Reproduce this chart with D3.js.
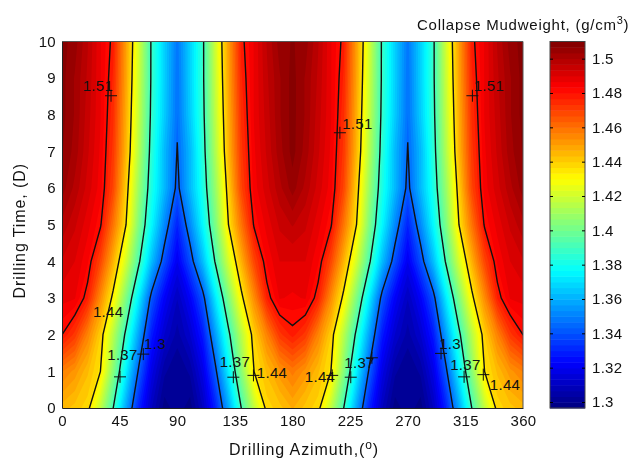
<!DOCTYPE html>
<html lang="en">
<head>
<meta charset="UTF-8">
<title>Collapse Mudweight</title>
<script src="https://cdn.jsdelivr.net/npm/d3@7"></script>
<style>
    html, body { margin: 0; padding: 0; background: #fff; }
    svg { display: block; filter: blur(0.35px); }
    text { font-family: "Liberation Sans", Arial, sans-serif; fill: #111; }
</style>
</head>
<body>
<svg width="634" height="460"></svg>
<script>
    // values, one row per day, one column per 10 degrees
    var azimuths = d3.range(0, 361, 10);
    var times = [0, 1, 2, 3, 4, 5, 6, 7, 8, 9, 10];
    var mudweight = [
        [1.445,1.442,1.438,1.417,1.390,1.358,1.330,1.310,1.298,1.302,1.298,1.310,1.330,1.358,1.390,1.417,1.438,1.442,1.447,1.442,1.438,1.417,1.390,1.358,1.330,1.310,1.298,1.302,1.298,1.310,1.330,1.358,1.390,1.417,1.438,1.442,1.445],
        [1.457,1.452,1.444,1.435,1.405,1.374,1.343,1.318,1.304,1.300,1.304,1.318,1.343,1.374,1.405,1.435,1.444,1.452,1.458,1.452,1.444,1.435,1.405,1.374,1.343,1.318,1.304,1.300,1.304,1.318,1.343,1.374,1.405,1.435,1.444,1.452,1.457],
        [1.480,1.472,1.456,1.440,1.415,1.387,1.357,1.328,1.313,1.305,1.313,1.328,1.357,1.387,1.415,1.440,1.456,1.472,1.478,1.472,1.456,1.440,1.415,1.387,1.357,1.328,1.313,1.305,1.313,1.328,1.357,1.387,1.415,1.440,1.456,1.472,1.480],
        [1.488,1.487,1.477,1.454,1.432,1.403,1.373,1.341,1.322,1.310,1.322,1.341,1.373,1.403,1.432,1.454,1.477,1.487,1.486,1.487,1.477,1.454,1.432,1.403,1.373,1.341,1.322,1.310,1.322,1.341,1.373,1.403,1.432,1.454,1.477,1.487,1.488],
        [1.493,1.490,1.484,1.469,1.446,1.421,1.392,1.363,1.339,1.320,1.339,1.363,1.392,1.421,1.446,1.469,1.484,1.490,1.490,1.490,1.484,1.469,1.446,1.421,1.392,1.363,1.339,1.320,1.339,1.363,1.392,1.421,1.446,1.469,1.484,1.490,1.493],
        [1.499,1.494,1.488,1.481,1.459,1.435,1.403,1.376,1.352,1.330,1.352,1.376,1.403,1.435,1.459,1.481,1.488,1.494,1.497,1.494,1.488,1.481,1.459,1.435,1.403,1.376,1.352,1.330,1.352,1.376,1.403,1.435,1.459,1.481,1.488,1.494,1.499],
        [1.505,1.499,1.492,1.485,1.469,1.440,1.409,1.382,1.362,1.342,1.362,1.382,1.409,1.440,1.469,1.485,1.492,1.499,1.505,1.499,1.492,1.485,1.469,1.440,1.409,1.382,1.362,1.342,1.362,1.382,1.409,1.440,1.469,1.485,1.492,1.499,1.505],
        [1.507,1.502,1.494,1.486,1.472,1.445,1.414,1.385,1.362,1.3445,1.362,1.385,1.414,1.445,1.472,1.486,1.494,1.502,1.508,1.502,1.494,1.486,1.472,1.445,1.414,1.385,1.362,1.3445,1.362,1.385,1.414,1.445,1.472,1.486,1.494,1.502,1.507],
        [1.508,1.503,1.495,1.487,1.474,1.447,1.417,1.387,1.366,1.3465,1.366,1.387,1.417,1.447,1.474,1.487,1.495,1.503,1.508,1.503,1.495,1.487,1.474,1.447,1.417,1.387,1.366,1.3465,1.366,1.387,1.417,1.447,1.474,1.487,1.495,1.503,1.508],
        [1.508,1.503,1.496,1.487,1.476,1.449,1.419,1.388,1.367,1.347,1.367,1.388,1.419,1.449,1.476,1.487,1.496,1.503,1.508,1.503,1.496,1.487,1.476,1.449,1.419,1.388,1.367,1.347,1.367,1.388,1.419,1.449,1.476,1.487,1.496,1.503,1.508],
        [1.508,1.505,1.497,1.487,1.478,1.450,1.421,1.388,1.367,1.348,1.367,1.388,1.421,1.450,1.478,1.487,1.497,1.505,1.507,1.505,1.497,1.487,1.478,1.450,1.421,1.388,1.367,1.348,1.367,1.388,1.421,1.450,1.478,1.487,1.497,1.505,1.508]
    ];

    var xTicks = [0, 45, 90, 135, 180, 225, 270, 315, 360];
    var yTicks = [0, 1, 2, 3, 4, 5, 6, 7, 8, 9, 10];
    var colorTicks = [1.3, 1.32, 1.34, 1.36, 1.38, 1.4, 1.42, 1.44, 1.46, 1.48, 1.5];
    var colorDomain = [1.2965, 1.51];

    // the black lines are drawn at these levels
    var lineLevels = [1.345, 1.39, 1.435, 1.48];

    // clabel text and the azimuth/time it sits at
    var labelText = ["1.51", "1.51", "1.51", "1.44", "1.37", "1.3", "1.37", "1.44", "1.44", "1.37", "1.3", "1.37", "1.44"];
    var labelAz = [28, 230.7, 333.4, 36, 47.2, 72.6, 135, 164, 201.5, 232.3, 303, 315, 346];
    var labelTime = [8.81, 7.75, 8.81, 2.62, 1.45, 1.77, 1.26, 0.98, 0.85, 1.23, 1.75, 1.2, 0.65];

    // clabel + marks
    var plusAz = [38.3, 217, 320.5, 45.3, 63.5, 133.8, 149.5, 211, 225.5, 242, 296, 314, 329];
    var plusTime = [8.52, 7.51, 8.52, 0.85, 1.47, 0.84, 0.89, 0.89, 0.84, 1.37, 1.49, 0.85, 0.91];

    var svg = d3.select('svg');
    var left = 62, right = 523, top_ = 41.5, bottom = 408;
    var barLeft = 550, barRight = 585;

    var x = d3.scaleLinear().domain([0, 360]).range([left, right]);
    var y = d3.scaleLinear().domain([0, 10]).range([bottom, top_]);
    var barY = d3.scaleLinear().domain(colorDomain).range([bottom, top_]);

    // matlab jet
    function jet(t) {
        function ramp(a) { return Math.round(255 * Math.max(0, Math.min(1, a))); }
        return d3.rgb(ramp(1.5 - Math.abs(4 * t - 3)), ramp(1.5 - Math.abs(4 * t - 2)), ramp(1.5 - Math.abs(4 * t - 1)));
    }

    var nBands = 64;
    var bandStep = (colorDomain[1] - colorDomain[0]) / nBands;
    var bandStarts = d3.range(nBands).map(function (i) { return colorDomain[0] + i * bandStep; });
    function bandColor(v) {
        return jet((v - colorDomain[0] + bandStep / 2) / (colorDomain[1] - colorDomain[0]));
    }

    // d3.contours puts sample i at i + 0.5
    var flat = d3.merge(mudweight);
    var nx = azimuths.length, ny = times.length;
    var gridX = d3.scaleLinear().domain([0.5, nx - 0.5]).range([x(0), x(360)]);
    var gridY = d3.scaleLinear().domain([0.5, ny - 0.5]).range([y(0), y(10)]);
    var path = d3.geoPath(d3.geoTransform({
        point: function (a, b) { this.stream.point(gridX(a), gridY(b)); }
    }));
    var contours = d3.contours().size([nx, ny]);

    svg.append('clipPath').attr('id', 'plot-clip')
        .append('rect')
        .attr('x', left).attr('y', top_)
        .attr('width', right - left).attr('height', bottom - top_);

    var plot = svg.append('g').attr('clip-path', 'url(#plot-clip)');

    plot.append('rect')
        .attr('x', left).attr('y', top_)
        .attr('width', right - left).attr('height', bottom - top_)
        .attr('fill', bandColor(colorDomain[0]));

    plot.selectAll('path.band')
        .data(contours.thresholds(bandStarts)(flat))
        .enter()
        .append('path')
        .attr('class', 'band')
        .attr('d', path)
        .attr('fill', function (d) { return bandColor(d.value); });

    plot.selectAll('path.line')
        .data(contours.thresholds(lineLevels)(flat))
        .enter()
        .append('path')
        .attr('class', 'line')
        .attr('d', path)
        .attr('fill', 'none')
        .attr('stroke', '#111')
        .attr('stroke-width', 1.4);

    // labels and + marks
    svg.selectAll('text.clabel')
        .data(labelText)
        .enter()
        .append('text')
        .attr('class', 'clabel')
        .attr('x', function (d, i) { return x(labelAz[i]); })
        .attr('y', function (d, i) { return y(labelTime[i]); })
        .attr('text-anchor', 'middle')
        .attr('dominant-baseline', 'central')
        .attr('font-size', 15)
        .attr('letter-spacing', 0.3)
        .text(function (d) { return d; });

    svg.selectAll('path.plus')
        .data(plusAz)
        .enter()
        .append('path')
        .attr('class', 'plus')
        .attr('transform', function (d, i) { return 'translate(' + x(d) + ',' + y(plusTime[i]) + ')'; })
        .attr('d', 'M-6,0H6M0,-6V6')
        .attr('stroke', '#111')
        .attr('fill', 'none');

    // axes
    var xAxis = svg.append('g')
        .attr('transform', 'translate(0,' + bottom + ')')
        .call(d3.axisBottom(x).tickValues(xTicks).tickSize(0).tickPadding(7));
    var yAxis = svg.append('g')
        .attr('transform', 'translate(' + left + ',0)')
        .call(d3.axisLeft(y).tickValues(yTicks).tickSize(0).tickPadding(6));
    xAxis.selectAll('text').attr('font-size', 15).attr('letter-spacing', 0.3).attr('font-family', null);
    yAxis.selectAll('text').attr('font-size', 15).attr('letter-spacing', 0.3).attr('font-family', null);
    xAxis.select('.domain').attr('stroke', '#222');
    yAxis.select('.domain').attr('stroke', '#222');

    svg.append('path')
        .attr('d', 'M' + left + ',' + top_ + 'H' + right + 'V' + bottom)
        .attr('fill', 'none')
        .attr('stroke', '#555');

    // axis titles
    var xTitle = svg.append('text')
        .attr('x', 229).attr('y', 455)
        .attr('font-size', 16)
        .attr('letter-spacing', 0.9);
    xTitle.append('tspan').text('Drilling Azimuth,(');
    xTitle.append('tspan').attr('dy', -6).attr('font-size', 12).text('o');
    xTitle.append('tspan').attr('dy', 6).text(')');

    svg.append('text')
        .attr('transform', 'translate(25,' + ((top_ + bottom) / 2 + 6) + ') rotate(-90)')
        .attr('text-anchor', 'middle')
        .attr('font-size', 16)
        .attr('letter-spacing', 0.9)
        .text('Drilling Time, (D)');

    var barTitle = svg.append('text')
        .attr('x', 417).attr('y', 30)
        .attr('font-size', 15)
        .attr('letter-spacing', 0.75);
    barTitle.append('tspan').text('Collapse Mudweight, (g/cm');
    barTitle.append('tspan').attr('dy', -6).attr('font-size', 11).text('3');
    barTitle.append('tspan').attr('dy', 6).text(')');

    // colorbar
    var barH = (bottom - top_) / nBands;
    svg.selectAll('rect.bar')
        .data(bandStarts)
        .enter()
        .append('rect')
        .attr('class', 'bar')
        .attr('x', barLeft)
        .attr('width', barRight - barLeft)
        .attr('y', function (d) { return barY(d + bandStep); })
        .attr('height', barH + 0.5)
        .attr('fill', function (d) { return bandColor(d); });

    svg.append('rect')
        .attr('x', barLeft).attr('y', top_)
        .attr('width', barRight - barLeft).attr('height', bottom - top_)
        .attr('fill', 'none')
        .attr('stroke', '#444');

    var barAxis = svg.append('g')
        .attr('transform', 'translate(' + barRight + ',0)')
        .call(d3.axisRight(barY).tickValues(colorTicks).tickFormat(d3.format('')).tickSize(-3).tickPadding(7));
    barAxis.select('.domain').remove();
    barAxis.selectAll('text').attr('font-size', 15).attr('letter-spacing', 0.3).attr('font-family', null);
    barAxis.selectAll('.tick').append('line')
        .attr('x1', barLeft - barRight).attr('x2', barLeft - barRight + 3)
        .attr('stroke', '#000');
</script>
</body>
</html>
